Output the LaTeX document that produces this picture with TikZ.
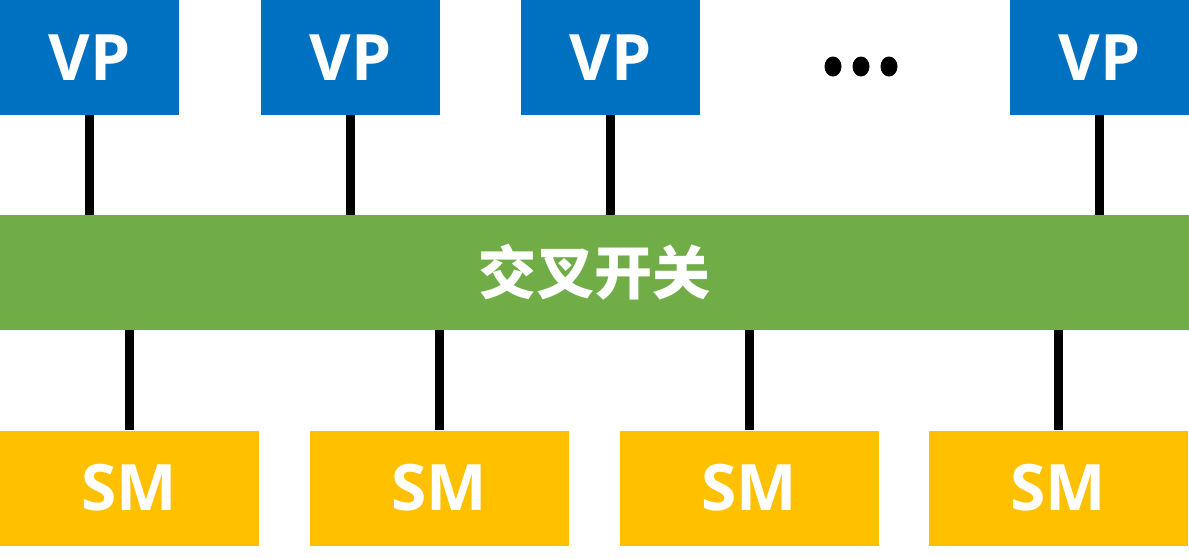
\documentclass[tikz,border=0pt]{standalone}
\usepackage{fontspec}
\setmainfont{Open Sans}
\newfontfamily\cjk{Noto Sans CJK SC}
\definecolor{vpblue}{HTML}{0070C0}
\definecolor{smyellow}{HTML}{FFC000}
\definecolor{xgreen}{HTML}{70AD47}
\begin{document}
\begin{tikzpicture}[x=1pt,y=-1pt,
  vpbox/.style={fill=vpblue,text=white,minimum width=179pt,minimum height=115pt,inner sep=0pt,font=\fontsize{64}{64}\selectfont\bfseries},
  smbox/.style={fill=smyellow,text=white,minimum width=259pt,minimum height=115pt,inner sep=0pt,font=\fontsize{64}{64}\selectfont\bfseries},
  link/.style={line width=9pt,black}]
\useasboundingbox (0,0) rectangle (1189,558);
\node[vpbox] (vp1) at (89.5,57.5) {VP};
\node[vpbox] (vp2) at (350.5,57.5) {VP};
\node[vpbox] (vp3) at (610.5,57.5) {VP};
\node[vpbox] (vp4) at (1099.5,57.5) {VP};
\foreach \i/\xx in {1/833,2/861,3/889}
  \fill[black] (\xx,66.5) ellipse (8.5pt and 10pt);
\node[fill=xgreen,text=white,minimum width=1189pt,minimum height=115pt,inner sep=0pt,font=\cjk\fontsize{58}{58}\selectfont\bfseries] (xbar) at (594.5,272.5) {交叉开关};
\node[smbox] (sm1) at (129.5,488) {SM};
\node[smbox] (sm2) at (439.5,488) {SM};
\node[smbox] (sm3) at (749,488) {SM};
\node[smbox] (sm4) at (1058.5,488) {SM};
\foreach \i in {1,2,3,4}
  \draw[link] (vp\i.south) -- (vp\i.south |- xbar.north);
\foreach \i in {1,2,3,4}
  \draw[link] (sm\i.north |- xbar.south) -- (sm\i.north);
\end{tikzpicture}
\end{document}
